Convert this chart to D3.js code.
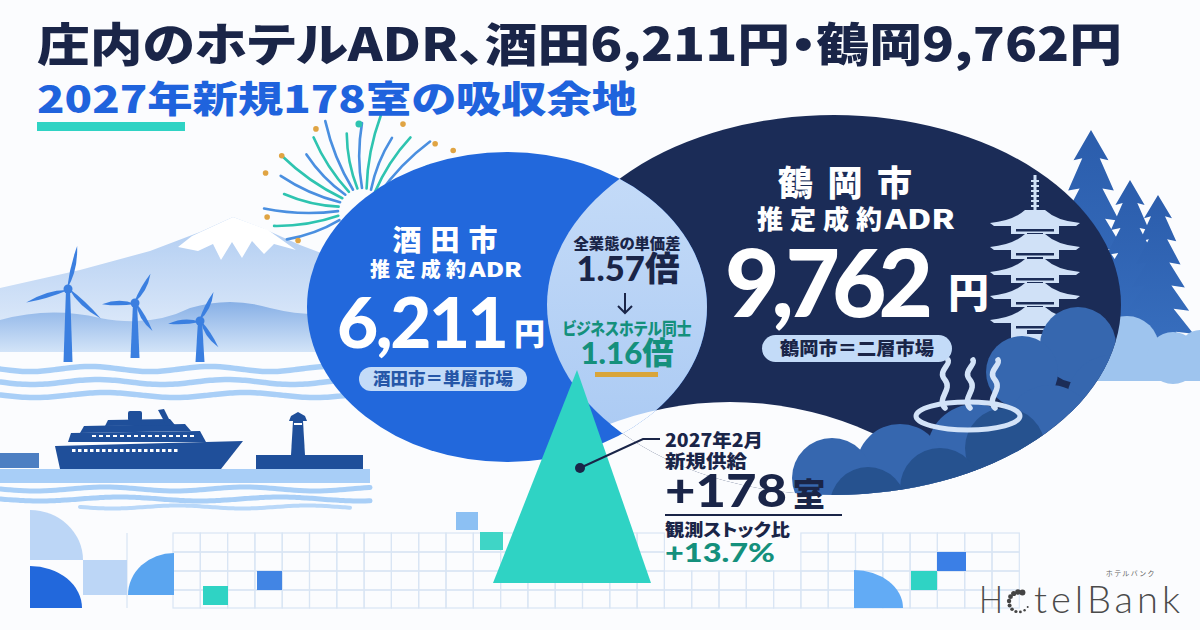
<!DOCTYPE html>
<html>
<head>
<meta charset="utf-8">
<script src="https://cdn.jsdelivr.net/npm/d3@7"></script>
<style>
  body { margin: 0; background: #fbfcfe; }
  svg { display: block; }
  text { font-feature-settings: "palt" 1; }
</style>
</head>
<body>
<div id="chart"></div>
<script>
// chart values
const cities = ["酒田市", "鶴岡市"];
const cityShort = ["酒田", "鶴岡"];
const adr = [6211, 9762];
const marketType = ["単層市場", "二層市場"];
const gapLabels = ["全業態の単価差", "ビジネスホテル同士"];
const gapRatios = [1.57, 1.16];
const supplyYear = 2027;
const supplyMonth = 2;
const newRooms = 178;
const stockRatio = 13.7;

const W = 1200, H = 630;
const FONT = "'Noto Sans CJK JP','Noto Sans',sans-serif";
const NUM = "Lato,'Noto Sans CJK JP',sans-serif";
const navy = "#1a2548", blue = "#2268dc", dark = "#1b2c57", teal = "#2fd3c4", green = "#14907c";
const fmt = d3.format(",");

const svg = d3.select("#chart").append("svg")
  .attr("width", W).attr("height", H)
  .attr("viewBox", [0, 0, W, H]);
const defs = svg.append("defs");

svg.append("rect").attr("width", W).attr("height", H).attr("fill", "#fbfcfe");

// scales for the two city bubbles
const cx = d3.scaleOrdinal(cities, [507, 834]);
const cy = d3.scaleOrdinal(cities, [307, 305]);
const rx = d3.scaleLinear([adr[0], adr[1]], [200, 287]);
const ry = d3.scaleLinear([adr[0], adr[1]], [155, 190]);

// gradients
function vGrad(id, c1, c2) {
  const g = defs.append("linearGradient").attr("id", id).attr("x1", 0).attr("x2", 0).attr("y1", 0).attr("y2", 1);
  g.append("stop").attr("offset", "0%").attr("stop-color", c1);
  g.append("stop").attr("offset", "100%").attr("stop-color", c2);
}
vGrad("mtn", "#aecbf1", "#e6effb");
vGrad("hill", "#88b0e6", "#d3e4f8");
vGrad("lens", "#c6dcf8", "#a9c9f3");
vGrad("tree", "#2b5dac", "#3a72c2");

// clip paths for the bubbles
cities.forEach((c, i) => {
  defs.append("clipPath").attr("id", "clip" + i)
    .append("ellipse")
    .attr("cx", cx(c)).attr("cy", cy(c))
    .attr("rx", rx(adr[i])).attr("ry", ry(adr[i]));
});

// ---------- left scenery ----------
const scene = svg.append("g");
scene.append("path")
  .attr("d", "M0,288 L80,270 L150,251 L200,232 L233,217 L262,228 L300,245 L345,262 L345,352 L0,352 Z")
  .attr("fill", "url(#mtn)");
scene.append("path")
  .attr("d", "M192,236 L233,217 L268,230 L296,250 L274,244 L264,254 L252,241 L242,258 L232,242 L221,260 L213,244 L198,251 L178,247 Z")
  .attr("fill", "#ffffff");
scene.append("path")
  .attr("d", "M0,320 Q50,306 100,318 Q150,328 190,308 Q230,296 270,308 Q310,318 345,312 L345,352 L0,352 Z")
  .attr("fill", "url(#hill)");

function windmill(x, hubY, baseY, L, rot) {
  const g = scene.append("g").attr("fill", "#3b7fe0");
  g.append("path").attr("d", `M${x - 2},${hubY} L${x + 2},${hubY} L${x + 4.5},${baseY} L${x - 4.5},${baseY} Z`);
  [0, 120, 240].forEach(a => {
    g.append("path")
      .attr("d", `M-1,0 Q6,${-L * 0.45} 0,${-L} Q-3,${-L * 0.5} -1,0 Z`)
      .attr("transform", `translate(${x},${hubY}) rotate(${rot + a})`);
  });
  g.append("circle").attr("cx", x).attr("cy", hubY).attr("r", 4.5);
}
windmill(68, 289, 362, 44, 12);
windmill(135, 303, 358, 33, 28);
windmill(200, 321, 362, 32, 25);

function wave(x0, x1, y, amp, period) {
  const pts = d3.range(x0, x1 + 1, 5).map(x => [x, y + amp * Math.sin((x - x0) / period * 2 * Math.PI)]);
  return d3.line().curve(d3.curveBasis)(pts);
}
[369, 382, 395].forEach((y, i) => {
  scene.append("path").attr("d", wave(0, 345, y, 2.5, 120 + i * 10))
    .attr("fill", "none").attr("stroke", "#a9cff7").attr("stroke-width", 5.5).attr("stroke-linecap", "round");
});

// ship
const ship = scene.append("g").attr("fill", "#1f4f9a");
ship.append("path").attr("d", "M55,446 L243,441 L221,469 L60,469 Z");
ship.append("path").attr("d", "M68,442 L71,433 L200,431 L206,442 Z");
ship.append("path").attr("d", "M80,433 L84,426 L185,424 L191,431 Z");
ship.append("path").attr("d", "M105,426 L108,420 L170,419 L175,425 Z");
ship.append("rect").attr("x", 128).attr("y", 411).attr("width", 14).attr("height", 10).attr("rx", 2);
ship.append("path").attr("d", "M158,410 L164,409 L171,423 L165,423 Z");
d3.range(72, 176, 6).forEach(x => {
  ship.append("rect").attr("x", x).attr("y", 449).attr("width", 3.5).attr("height", 3).attr("fill", "#ffffff");
});
d3.range(92, 192, 7).forEach(x => {
  ship.append("rect").attr("x", x).attr("y", 435).attr("width", 4).attr("height", 2).attr("fill", "#ffffff");
});
scene.append("rect").attr("x", 0).attr("y", 453).attr("width", 39).attr("height", 15).attr("fill", "#4d7fc2");
// lighthouse
const lh = scene.append("g").attr("fill", "#1f4f9a");
lh.append("rect").attr("x", 256).attr("y", 455).attr("width", 107).attr("height", 14);
lh.append("path").attr("d", "M291,455 L305,455 L303,421 L293,421 Z");
lh.append("path").attr("d", "M289,421 L307,421 L305,416 L298,412 L291,416 Z");
lh.append("rect").attr("x", 294).attr("y", 423).attr("width", 8).attr("height", 2).attr("fill", "#ffffff");

scene.append("rect").attr("x", 0).attr("y", 469).attr("width", 370).attr("height", 14).attr("fill", "#a8cef7");
[489, 499].forEach((y, i) => {
  scene.append("path").attr("d", wave(0, 370, y, 2, 140 + i * 20))
    .attr("fill", "none").attr("stroke", "#a9cff7").attr("stroke-width", 5).attr("stroke-linecap", "round");
});
scene.append("path").attr("d", wave(80, 350, 507, 1.5, 130))
  .attr("fill", "none").attr("stroke", "#b9d8f9").attr("stroke-width", 4).attr("stroke-linecap", "round");

// fireworks
const fw = svg.append("g");
const fwC = [362, 212];
d3.range(16).forEach(i => {
  const a = (200 - i * 11) * Math.PI / 180;
  const r1 = 24, r2 = 80 + (i % 3) * 9;
  const p1 = [fwC[0] + r1 * Math.cos(a), fwC[1] - r1 * Math.sin(a)];
  const p2 = [fwC[0] + r2 * Math.cos(a), fwC[1] - r2 * Math.sin(a)];
  const am = a + 0.1;
  const rm = (r1 + r2) / 2;
  const c = [fwC[0] + rm * Math.cos(am), fwC[1] - rm * Math.sin(am)];
  fw.append("path").attr("d", `M${p1} Q${c} ${p2}`)
    .attr("fill", "none").attr("stroke", i % 2 ? "#2ec4b0" : "#4a8fe0")
    .attr("stroke-width", 2.6).attr("stroke-linecap", "round");
});
const fwDots = [[119, 95], [92, 88], [65, 97], [43, 100], [34, 110], [145, 98], [158, 104], [183, 95], [204, 70]];
fwDots.forEach(([deg, r], i) => {
  const a = deg * Math.PI / 180;
  fw.append("circle")
    .attr("cx", fwC[0] + r * Math.cos(a)).attr("cy", fwC[1] - r * Math.sin(a))
    .attr("r", i === 1 ? 3.5 : 2.8).attr("fill", i === 1 ? "#2ec4b0" : "#e0a443");
});

// ---------- right scenery (behind) ----------
function treePath(x, top, bottom, hw) {
  const n = 8, h = bottom - top;
  const right = [], left = [];
  for (let i = 1; i <= n; i++) {
    const y = top + h * i / n;
    const w = hw * (0.22 + 0.78 * i / n);
    right.push([x + w, y], [x + w * 0.5, y - 2]);
    left.push([x - w, y], [x - w * 0.5, y - 2]);
  }
  right.pop(); left.pop();
  const pts = [[x, top], ...right, [x + 4, bottom], [x - 4, bottom], ...left.reverse()];
  return "M" + pts.join("L") + "Z";
}
const trees = svg.append("g").attr("fill", "url(#tree)");
trees.append("path").attr("d", treePath(1091, 130, 372, 55));
trees.append("path").attr("d", treePath(1130, 180, 380, 46));
trees.append("path").attr("d", treePath(1158, 195, 380, 44));
const lc = svg.append("g").attr("fill", "#9ec4ee");
[[1127, 348, 32], [1173, 358, 26], [1200, 350, 20]].forEach(([x, y, r]) => lc.append("circle").attr("cx", x).attr("cy", y).attr("r", r));
lc.append("rect").attr("x", 1060).attr("y", 356).attr("width", 140).attr("height", 25);

// ---------- Tsuruoka bubble ----------
svg.append("ellipse")
  .attr("cx", cx(cities[1])).attr("cy", cy(cities[1]))
  .attr("rx", rx(adr[1])).attr("ry", ry(adr[1]))
  .attr("fill", dark);

// pagoda
const pg = svg.append("g").attr("fill", "#d0e1f7");
const px = 1035;
pg.append("rect").attr("x", px - 1.5).attr("y", 175).attr("width", 3).attr("height", 36);
d3.range(180, 208, 5).forEach(y => pg.append("rect").attr("x", px - 4).attr("y", y).attr("width", 8).attr("height", 2));
const roofs = [223, 247, 272, 296, 320];
roofs.forEach((y, i) => {
  pg.append("path").attr("d",
    `M${px - 45},${y} Q${px - 22},${y - 2} ${px - 10},${y - 13} L${px + 10},${y - 13} Q${px + 22},${y - 2} ${px + 45},${y} L${px + 41},${y + 3} L${px - 41},${y + 3} Z`);
  const yb = y + 3, ye = (i < roofs.length - 1 ? roofs[i + 1] - 13 : 345);
  pg.append("rect").attr("x", px - 24).attr("y", yb).attr("width", 48).attr("height", ye - yb);
  pg.append("rect").attr("x", px - 19).attr("y", yb + 3).attr("width", 38).attr("height", 2.5).attr("fill", dark);
  pg.append("rect").attr("x", px - 8).attr("y", yb + 7).attr("width", 16).attr("height", 4).attr("fill", dark);
});

// white cover at bottom of the Tsuruoka bubble
svg.append("g").attr("clip-path", "url(#clip1)")
  .append("ellipse").attr("cx", 730).attr("cy", 722).attr("rx", 330).attr("ry", 320).attr("fill", "#fbfcfe");

// clouds inside the Tsuruoka bubble
const clouds = svg.append("g").attr("clip-path", "url(#clip1)");
const cloudMid = [[1078, 345, 38], [1022, 372, 36], [1112, 400, 45], [975, 452, 48], [900, 468, 44], [832, 478, 40], [1050, 430, 45]];
const cloudDark = [[1005, 448, 40], [940, 488, 40], [1065, 470, 40], [868, 505, 38]];
cloudMid.forEach(([x, y, r]) => clouds.append("circle").attr("cx", x).attr("cy", y).attr("r", r).attr("fill", "#3667af"));
cloudDark.forEach(([x, y, r]) => clouds.append("circle").attr("cx", x).attr("cy", y).attr("r", r).attr("fill", "#26528f"));

// onsen mark
const os = svg.append("g").attr("fill", "none").attr("stroke", "#d3e3f8").attr("stroke-linecap", "round");
os.append("ellipse").attr("cx", 968).attr("cy", 416).attr("rx", 52).attr("ry", 14).attr("stroke-width", 5);
[945, 970, 995].forEach(x => {
  os.append("path")
    .attr("d", `M${x},408 C${x - 9},398 ${x + 8},390 ${x},380 C${x - 8},371 ${x + 6},365 ${x + 3},360`)
    .attr("stroke-width", 5.5);
});

// ---------- Sakata bubble + overlap ----------
svg.append("ellipse")
  .attr("cx", cx(cities[0])).attr("cy", cy(cities[0]))
  .attr("rx", rx(adr[0])).attr("ry", ry(adr[0]))
  .attr("fill", blue);
svg.append("g").attr("clip-path", "url(#clip1)")
  .append("ellipse")
  .attr("cx", cx(cities[0])).attr("cy", cy(cities[0]))
  .attr("rx", rx(adr[0])).attr("ry", ry(adr[0]))
  .attr("fill", "url(#lens)");
svg.append("g").attr("clip-path", "url(#clip0)")
  .append("g").attr("clip-path", "url(#clip1)")
  .append("ellipse").attr("cx", 730).attr("cy", 722).attr("rx", 330).attr("ry", 320).attr("fill", "#fbfcfe");

// ---------- bottom grid ----------
const grid = svg.append("g");
const gx0 = 173, colW = 27.3, nCol = 31;
const rows = [533, 552, 571, 590, 608];
const colTop = i => {
  const x = gx0 + i * colW;
  return (x > 640 && x < 800) ? 571 : 533;
};
for (let i = 0; i < nCol; i++) {
  for (let r = 0; r < rows.length - 1; r++) {
    if (rows[r] < colTop(i)) continue;
    grid.append("rect")
      .attr("x", gx0 + i * colW).attr("y", rows[r])
      .attr("width", colW).attr("height", rows[r + 1] - rows[r])
      .attr("fill", "none").attr("stroke", "#d9e5f4").attr("stroke-width", 1.2);
  }
}
grid.append("line").attr("x1", 127).attr("x2", 127).attr("y1", 533).attr("y2", 608).attr("stroke", "#d9e5f4").attr("stroke-width", 1.2);
// tiles
grid.append("path").attr("d", "M30,560 L30,510 A53,50 0 0 1 83,560 Z").attr("fill", "#bcd6f6");
grid.append("path").attr("d", "M30,608 L30,566 A52,42 0 0 1 82,608 Z").attr("fill", "#2268dc");
grid.append("rect").attr("x", 83).attr("y", 560).attr("width", 44).attr("height", 35).attr("fill", "#bcd6f6");
grid.append("path").attr("d", "M128,595 A46,42 0 0 1 174,553 L174,595 Z").attr("fill", "#5aa5f0");
grid.append("rect").attr("x", 203).attr("y", 586).attr("width", 25).attr("height", 19).attr("fill", teal);
grid.append("rect").attr("x", 257).attr("y", 571).attr("width", 25).attr("height", 19).attr("fill", "#4285e4");
grid.append("rect").attr("x", 456).attr("y", 512).attr("width", 22).attr("height", 18).attr("fill", "#8cc0f3");
grid.append("rect").attr("x", 480).attr("y", 532).attr("width", 23).attr("height", 18).attr("fill", "#3fd5c6");
grid.append("rect").attr("x", 937).attr("y", 552).attr("width", 29).attr("height", 19).attr("fill", "#3b7fe6");
grid.append("rect").attr("x", 911).attr("y", 571).attr("width", 26).attr("height", 19).attr("fill", teal);
grid.append("path").attr("d", "M854,608 L854,570 A49,38 0 0 1 903,608 Z").attr("fill", "#62abf5");

// ---------- new supply triangle ----------
const triY = d3.scaleLinear([0, newRooms], [583, 370]);
const triW = d3.scaleLinear([0, newRooms], [0, 79]);
svg.append("path")
  .attr("d", `M${572 - triW(newRooms)},${triY(0)} L577,${triY(newRooms)} L${572 + triW(newRooms)},${triY(0)} Z`)
  .attr("fill", teal);

// callout
svg.append("path").attr("d", "M580,468 L643,439 L660,439")
  .attr("fill", "none").attr("stroke", navy).attr("stroke-width", 2);
svg.append("circle").attr("cx", 580).attr("cy", 468).attr("r", 5).attr("fill", navy);

// ---------- text ----------
function txt(str, x, y, size, fill, opts = {}) {
  const t = svg.append("text")
    .attr("x", x).attr("y", y)
    .attr("font-family", opts.family || FONT)
    .attr("font-size", size)
    .attr("font-weight", opts.weight || 900)
    .attr("fill", fill)
    .attr("text-anchor", opts.anchor || "start")
    .text(str);
  if (opts.len) t.attr("textLength", opts.len).attr("lengthAdjust", opts.adj || "spacingAndGlyphs");
  return t;
}

txt(`庄内のホテルADR、${cityShort[0]}${fmt(adr[0])}円・${cityShort[1]}${fmt(adr[1])}円`, 37, 61, 46, navy, { len: 1085 });
txt(`${supplyYear}年新規${newRooms}室の吸収余地`, 37, 113, 37, "#1f63dd", { len: 600 });
svg.append("rect").attr("x", 37).attr("y", 122).attr("width", 148).attr("height", 9).attr("fill", teal);

// Sakata
txt(cities[0], 445, 251, 29, "#ffffff", { anchor: "middle", len: 105, adj: "spacing" });
txt("推定成約", 370, 277, 20, "#ffffff", { len: 96, adj: "spacing" });
txt("ADR", 469, 277, 20, "#ffffff", { len: 53 });
txt(fmt(adr[0]), 337, 348, 71, "#ffffff", { family: NUM, len: 172, adj: "spacing" });
txt("円", 514, 345, 31, "#ffffff");
svg.append("rect").attr("x", 359).attr("y", 367).attr("width", 168).attr("height", 24).attr("rx", 12).attr("fill", "#c3dbf8");
txt(`${cities[0]}＝${marketType[0]}`, 443, 385, 16.5, "#2657a8", { anchor: "middle", len: 140 });

// overlap
txt(gapLabels[0], 627, 249, 15, navy, { anchor: "middle", len: 107 });
txt(`${gapRatios[0]}倍`, 628, 281, 34, navy, { anchor: "middle", len: 103, family: NUM });
svg.append("path").attr("d", "M625,293 L625,313 M618,306 L625,313 L632,306")
  .attr("fill", "none").attr("stroke", navy).attr("stroke-width", 2);
txt(gapLabels[1], 627, 335, 16.5, green, { anchor: "middle", len: 129 });
txt(`${gapRatios[1]}倍`, 627, 364, 31, green, { anchor: "middle", len: 93, family: NUM });
svg.append("rect").attr("x", 595).attr("y", 372).attr("width", 63).attr("height", 5).attr("fill", "#d9a53a");

// Tsuruoka
txt(cities[1], 845, 196, 35, "#ffffff", { anchor: "middle", len: 134, adj: "spacing" });
txt("推定成約", 757, 229, 26, "#ffffff", { len: 125, adj: "spacing" });
txt("ADR", 885, 229, 26, "#ffffff", { len: 70 });
txt(fmt(adr[1]), 725, 317, 94, "#ffffff", { family: NUM, len: 208, adj: "spacing" });
txt("円", 948, 308, 41, "#ffffff");
svg.append("rect").attr("x", 762).attr("y", 335).attr("width", 190).attr("height", 27).attr("rx", 13.5).attr("fill", "#c3dbf8");
txt(`${cities[1]}＝${marketType[1]}`, 857, 355, 18.5, navy, { anchor: "middle", len: 154 });

// supply callout
txt(`${supplyYear}年${supplyMonth}月`, 665, 447, 18, navy, { len: 98 });
txt("新規供給", 665, 468, 18, navy, { len: 82 });
txt(`+${newRooms}`, 665, 507, 45, navy, { family: NUM, len: 122 });
txt("室", 793, 506, 32, navy);
svg.append("line").attr("x1", 665).attr("x2", 842).attr("y1", 515).attr("y2", 515).attr("stroke", navy).attr("stroke-width", 2);
txt("観測ストック比", 665, 536, 17, navy, { len: 125 });
txt(`+${stockRatio}%`, 665, 562, 27, green, { family: NUM, len: 110 });

// logo
const logo = svg.append("g");
txt("H", 979, 613, 38, "#4b4b4b", { family: "Lato, 'DejaVu Sans', sans-serif", weight: 300, len: 24 });
txt("telBank", 1034, 613, 38, "#4b4b4b", { family: "Lato, 'DejaVu Sans', sans-serif", weight: 300, len: 146, adj: "spacing" });
txt("ホテルバンク", 1106, 576, 7, "#666666", { weight: 400, len: 48, adj: "spacing" });
d3.range(11).forEach(i => {
  const a = (-70 - i * 26) * Math.PI / 180;
  logo.append("circle")
    .attr("cx", 1019 + 10 * Math.cos(a)).attr("cy", 602 + 10 * Math.sin(a))
    .attr("r", 3 - i * 0.2).attr("fill", "#444444");
});
</script>
</body>
</html>
